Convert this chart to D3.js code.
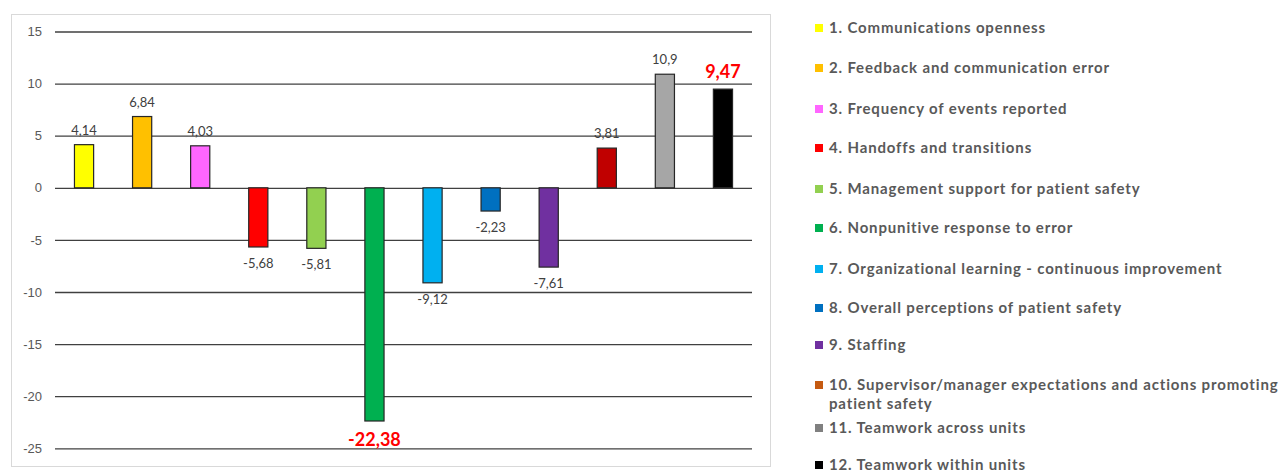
<!DOCTYPE html>
<html>
<head>
<meta charset="utf-8">
<script src="https://cdn.jsdelivr.net/npm/d3@7"></script>
<style>
  body { margin: 0; background: #fff; }
  svg { display: block; font-family: Lato, "Open Sans", sans-serif; }
</style>
</head>
<body>
<svg id="chart" width="1283" height="470"></svg>
<script>
// data
const categories = [
  "1. Communications openness",
  "2. Feedback and communication error",
  "3. Frequency of events reported",
  "4. Handoffs and transitions",
  "5. Management support for patient safety",
  "6. Nonpunitive response to error",
  "7. Organizational learning - continuous improvement",
  "8. Overall perceptions of patient safety",
  "9. Staffing",
  "10. Supervisor/manager expectations and actions promoting patient safety",
  "11. Teamwork across units",
  "12. Teamwork within units"
];
const values = [4.14, 6.84, 4.03, -5.68, -5.81, -22.38, -9.12, -2.23, -7.61, 3.81, 10.9, 9.47];
const barColors = ["#FFFF00","#FFC000","#FF66FF","#FF0000","#92D050","#00B050",
                   "#00B0F0","#0070C0","#7030A0","#C00000","#A6A6A6","#000000"];
const legendColors = ["#FFFF00","#FFC000","#FF66FF","#FF0000","#92D050","#00B050",
                      "#00B0F0","#0070C0","#7030A0","#C55A11","#808080","#000000"];
const highlighted = [5, 11]; // indices with red bold labels
const yTicks = [15, 10, 5, 0, -5, -10, -15, -20, -25];

const svg = d3.select("#chart");

// chart frame
svg.append("rect")
  .attr("x", 11.5).attr("y", 14.5)
  .attr("width", 759).attr("height", 452)
  .attr("fill", "#fff").attr("stroke", "#d9d9d9");

const plot = { left: 55, right: 752, top: 31.5, bottom: 448.3 };

const x = d3.scaleBand()
  .domain(d3.range(categories.length))
  .range([plot.left, plot.right])
  .paddingInner(0.67).paddingOuter(0.335);

const y = d3.scaleLinear().domain([-25, 15]).range([plot.bottom, plot.top]);

const fmt = v => String(v).replace(".", ",");

// gridlines + tick labels
const yAxis = svg.append("g")
  .attr("transform", `translate(${plot.left},0)`)
  .call(d3.axisLeft(y).tickValues(yTicks).tickSize(-(plot.right - plot.left)).tickPadding(13).tickFormat(d => d));
yAxis.select(".domain").remove();
yAxis.selectAll(".tick line").attr("stroke", "#404040").attr("stroke-width", 1.3);
yAxis.selectAll(".tick text").attr("fill", "#595959").attr("font-size", 13);

// bars
svg.append("g").selectAll("rect")
  .data(values)
  .join("rect")
  .attr("x", (d, i) => x(i))
  .attr("width", x.bandwidth())
  .attr("y", d => y(Math.max(0, d)))
  .attr("height", d => Math.abs(y(d) - y(0)))
  .attr("fill", (d, i) => barColors[i])
  .attr("stroke", "#262626")
  .attr("stroke-width", 1.2);

// value labels
svg.append("g").selectAll("text")
  .data(values)
  .join("text")
  .attr("x", (d, i) => x(i) + x.bandwidth() / 2)
  .attr("y", (d, i) => {
    const big = highlighted.includes(i);
    if (d >= 0) return y(d) - (big ? 11 : 10);
    return y(d) + (big ? 25 : 21);
  })
  .attr("text-anchor", "middle")
  .attr("fill", (d, i) => highlighted.includes(i) ? "#FF0000" : "#404040")
  .attr("font-weight", (d, i) => highlighted.includes(i) ? "bold" : "normal")
  .attr("font-size", (d, i) => highlighted.includes(i) ? 18 : 13)
  .text(d => fmt(d));

// legend
const legendRows = [28, 68, 109, 148, 189, 228, 269, 308, 345, 385, 428, 465];
const legend = svg.append("g")
  .attr("font-size", 15).attr("font-weight", "bold").attr("fill", "#595959")
  .attr("letter-spacing", 0.85);
categories.forEach((c, i) => {
  const g = legend.append("g").attr("transform", `translate(815,${legendRows[i]})`);
  g.append("rect").attr("x", 0).attr("y", -4).attr("width", 8).attr("height", 8).attr("fill", legendColors[i]);
  const t = g.append("text").attr("x", 14).attr("dy", "0.35em");
  if (i === 9) {
    t.append("tspan").attr("x", 14).text("10. Supervisor/manager expectations and actions promoting");
    t.append("tspan").attr("x", 14).attr("dy", 19).text("patient safety");
  } else {
    t.text(c);
  }
});
</script>
</body>
</html>
